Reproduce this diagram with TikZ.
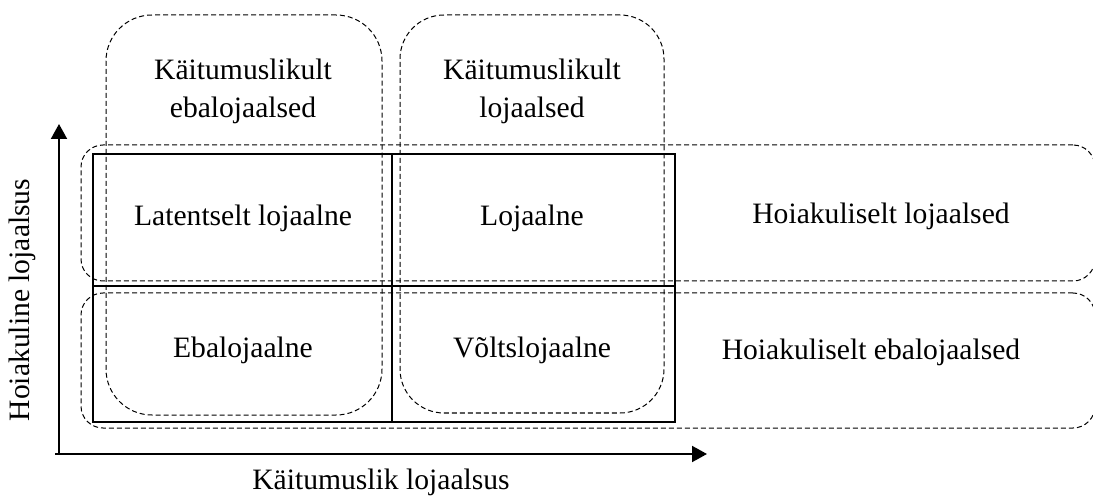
\documentclass[tikz,border=0pt]{standalone}
\usepackage{fontspec}
\setmainfont{Liberation Serif}
\usetikzlibrary{arrows.meta}
\begin{document}
\begin{tikzpicture}[x=0.5pt,y=-0.5pt,
  every node/.style={font=\fontsize{14.8}{19}\selectfont, inner sep=0pt, outer sep=0pt},
  dashbox/.style={draw, dash pattern=on 2.5pt off 1.5pt, line width=0.5pt},
  cell/.style={draw, line width=1pt, anchor=north west},
  lbl/.style={align=center},
  axis/.style={line width=1pt, -{Triangle[length=7.5pt,width=8pt]}}]
\useasboundingbox (0,0) rectangle (1093,497);
\clip (0,0) rectangle (1093,497);
% dashed rounded regions
\node[dashbox, rounded corners=23pt, anchor=north west, minimum width=138pt, minimum height=200pt] (col1) at (106,15) {};
\node[dashbox, rounded corners=22pt, anchor=north west, minimum width=132pt, minimum height=199pt] (col2) at (400,15) {};
\node[dashbox, rounded corners=11pt, anchor=north west, minimum width=507pt, minimum height=68pt] (row1) at (81,145) {};
\node[dashbox, rounded corners=11pt, anchor=north west, minimum width=507pt, minimum height=67.5pt] (row2) at (81,293) {};
% solid grid cells
\node[cell, minimum width=149.5pt, minimum height=66pt] (c11) at (93,154) {};
\node[cell, minimum width=141.5pt, minimum height=66pt] (c12) at (392,154) {};
\node[cell, minimum width=149.5pt, minimum height=68pt] (c21) at (93,286) {};
\node[cell, minimum width=141.5pt, minimum height=68pt] (c22) at (392,286) {};
% axes
\coordinate (o) at (59,454);
\coordinate (ytip) at (59,124);
\coordinate (xtip) at (707,454);
\coordinate (xstart) at (55,454);
\draw[axis] (o) -- (ytip);
\draw[axis] (xstart) -- (xtip);
% labels
\node[lbl] (t1) at (243,91) {Käitumuslikult\\ebalojaalsed};
\node[lbl] (t2) at (532,91) {Käitumuslikult\\lojaalsed};
\node (t3) at (243,218) {Latentselt lojaalne};
\node (t4) at (532,218) {Lojaalne};
\node (t5) at (243,350) {Ebalojaalne};
\node (t6) at (532,350) {Võltslojaalne};
\node (t7) at (881,216) {Hoiakuliselt lojaalsed};
\node (t8) at (871,352) {Hoiakuliselt ebalojaalsed};
\node[rotate=90] (ya) at (22,300) {Hoiakuline lojaalsus};
\node (xa) at (381,482) {Käitumuslik lojaalsus};
\end{tikzpicture}
\end{document}
